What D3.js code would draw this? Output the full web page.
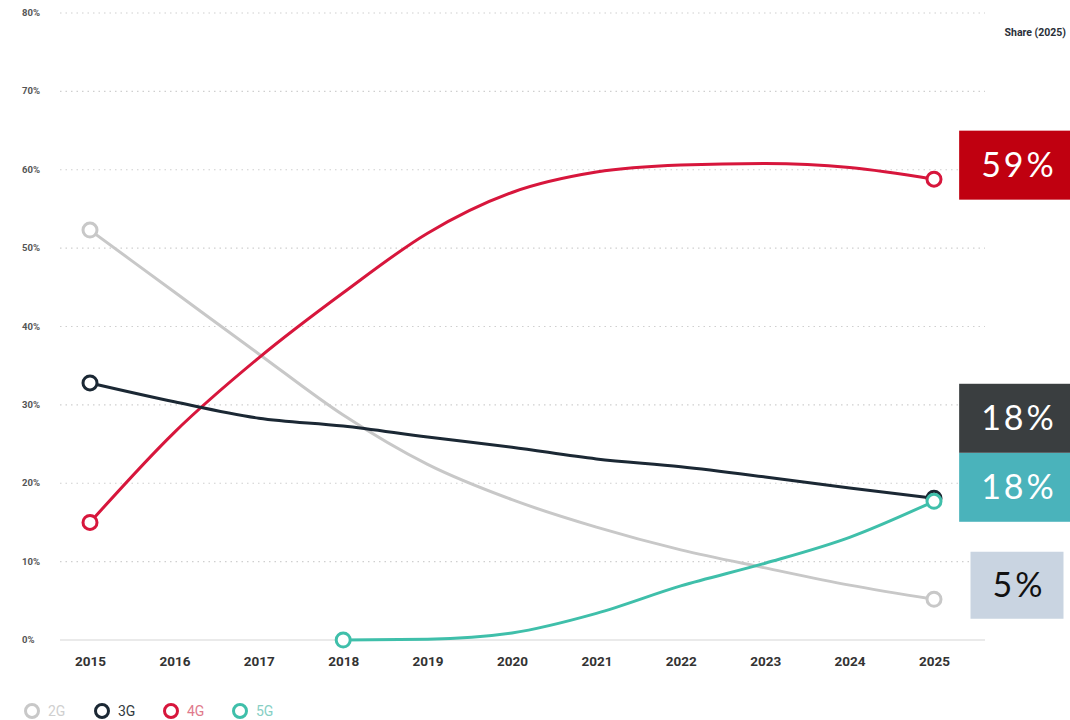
<!DOCTYPE html>
<html>
  <head>
    <meta charset="utf-8">
    <title>Mobile connections by technology</title>
    <script src="https://d3js.org/d3.v7.min.js"></script>
    <style>
      body { margin: 0; background: #fff; }
      text { font-family: Roboto, "DejaVu Sans", sans-serif; }
    </style>
  </head>
  <body>
    <div id="chart"></div>
    <script>
      // Data (share of connections, %)
      const years = [2015, 2016, 2017, 2018, 2019, 2020, 2021, 2022, 2023, 2024, 2025];
      const share2G = [52.3, 44.4, 36.5, 28.7, 22.4, 17.9, 14.4, 11.5, 9.2, 7.0, 5.2];
      const share3G = [32.8, 30.4, 28.3, 27.3, 25.9, 24.6, 23.1, 22.1, 20.8, 19.4, 18.1];
      const share4G = [15.0, 26.5, 36.0, 44.3, 51.9, 57.1, 59.7, 60.6, 60.8, 60.3, 58.8];
      const share5G = [null, null, null, 0.0, 0.1, 0.9, 3.4, 6.9, 9.8, 13.1, 17.7];
      const seriesNames = ["2G", "3G", "4G", "5G"];
      const yTicks = [0, 10, 20, 30, 40, 50, 60, 70, 80];
      const endLabels = ["59%", "18%", "18%", "5%"]; // for 4G, 3G, 5G, 2G

      const lineColors = {"2G": "#c8c8c8", "3G": "#1b2834", "4G": "#d7163c", "5G": "#3fbfaa"};
      const legendText = {"2G": "#cfcfcf", "3G": "#333a40", "4G": "#e07a8c", "5G": "#86cfc4"};
      const boxFill = {"2G": "#c9d4e1", "3G": "#3a3e40", "4G": "#c00010", "5G": "#4ab3bb"};
      const boxText = {"2G": "#111", "3G": "#fff", "4G": "#fff", "5G": "#fff"};

      const series = [
        {name: "2G", values: share2G},
        {name: "3G", values: share3G},
        {name: "4G", values: share4G},
        {name: "5G", values: share5G}
      ].map(s => ({
        name: s.name,
        points: years.map((yr, i) => ({year: yr, v: s.values[i]})).filter(d => d.v != null)
      }));

      const W = 1070, H = 720;
      const svg = d3.select("#chart").append("svg")
        .attr("width", W).attr("height", H);

      const x = d3.scaleLinear().domain([2015, 2025]).range([90, 934]);
      const y = d3.scaleLinear().domain([0, 80]).range([640, 13]);

      // grid
      const grid = svg.append("g");
      grid.selectAll("line").data(yTicks).join("line")
        .attr("x1", 60).attr("x2", 985)
        .attr("y1", d => y(d)).attr("y2", d => y(d))
        .attr("stroke", d => d === 0 ? "#e3e3e3" : "#cfcfcf")
        .attr("stroke-width", d => d === 0 ? 1.5 : 1.2)
        .attr("stroke-dasharray", d => d === 0 ? null : "1.5,4");

      // y axis labels
      svg.append("g").selectAll("text").data(yTicks).join("text")
        .attr("x", 22).attr("y", d => y(d) + 3)
        .attr("font-size", 9.5).attr("font-weight", "bold")
        .attr("fill", "#555")
        .text(d => d + "%");

      // x axis
      const xAxis = d3.axisBottom(x).tickValues(years).tickFormat(d3.format("d")).tickSize(0).tickPadding(9);
      const gx = svg.append("g").attr("transform", "translate(0,647)").call(xAxis);
      gx.select(".domain").remove();
      gx.selectAll("text")
        .attr("font-size", 13.5).attr("font-weight", "bold").attr("fill", "#333")
        .style("font-family", "Roboto, sans-serif");

      // lines
      const line = d3.line()
        .x(d => x(d.year)).y(d => y(d.v))
        .curve(d3.curveMonotoneX);

      const drawOrder = ["2G", "4G", "3G", "5G"];
      drawOrder.forEach(name => {
        const s = series.find(d => d.name === name);
        svg.append("path")
          .datum(s.points)
          .attr("fill", "none")
          .attr("stroke", lineColors[name])
          .attr("stroke-width", 3)
          .attr("stroke-linejoin", "round")
          .attr("d", line);
        const ends = [s.points[0], s.points[s.points.length - 1]];
        svg.append("g").selectAll("circle").data(ends).join("circle")
          .attr("cx", d => x(d.year)).attr("cy", d => y(d.v))
          .attr("r", 7)
          .attr("fill", "#fff")
          .attr("stroke", lineColors[name])
          .attr("stroke-width", 3);
      });

      // end value boxes with simple collision avoidance (bottom-up)
      const boxH = 69;
      const labelOrder = ["4G", "3G", "5G", "2G"];
      const boxes = labelOrder.map((name, i) => {
        const s = series.find(d => d.name === name);
        const last = s.points[s.points.length - 1];
        return {name, text: endLabels[i], cy: y(last.v) - 14};
      }).sort((a, b) => b.cy - a.cy);
      for (let i = 1; i < boxes.length; i++) {
        const below = boxes[i - 1];
        if (boxes[i].cy > below.cy - boxH) boxes[i].cy = below.cy - boxH;
      }

      const boxG = svg.append("g");
      boxes.forEach(b => {
        const g = boxG.append("g");
        const t = g.append("text")
          .attr("x", 1019).attr("y", b.cy + 12)
          .attr("text-anchor", "middle")
          .attr("font-size", 34)
          .attr("letter-spacing", 3)
          .attr("fill", boxText[b.name])
          .style("font-family", "Lato, 'DejaVu Sans', sans-serif")
          .text(b.text);
        const bb = t.node().getBBox();
        const bw = bb.width + 40;
        const hh = b.name === "2G" ? 67 : boxH;
        g.insert("rect", "text")
          .attr("x", 1017 - bw / 2).attr("y", b.cy - hh / 2)
          .attr("width", bw).attr("height", hh)
          .attr("fill", boxFill[b.name]);
      });

      svg.append("text")
        .attr("x", 1066).attr("y", 36)
        .attr("text-anchor", "end")
        .attr("font-size", 10.5).attr("font-weight", "bold")
        .attr("fill", "#2a3038")
        .text("Share (2025)");

      // legend
      const legend = svg.append("g").attr("transform", "translate(0,711)");
      const legendX = [32, 102, 171, 240];
      seriesNames.forEach((name, i) => {
        legend.append("circle")
          .attr("cx", legendX[i]).attr("cy", 0).attr("r", 6.5)
          .attr("fill", "#fff").attr("stroke", lineColors[name]).attr("stroke-width", 3);
        legend.append("text")
          .attr("x", legendX[i] + 16).attr("y", 5)
          .attr("font-size", 14)
          .attr("fill", legendText[name])
          .text(name);
      });
    </script>
  </body>
</html>
